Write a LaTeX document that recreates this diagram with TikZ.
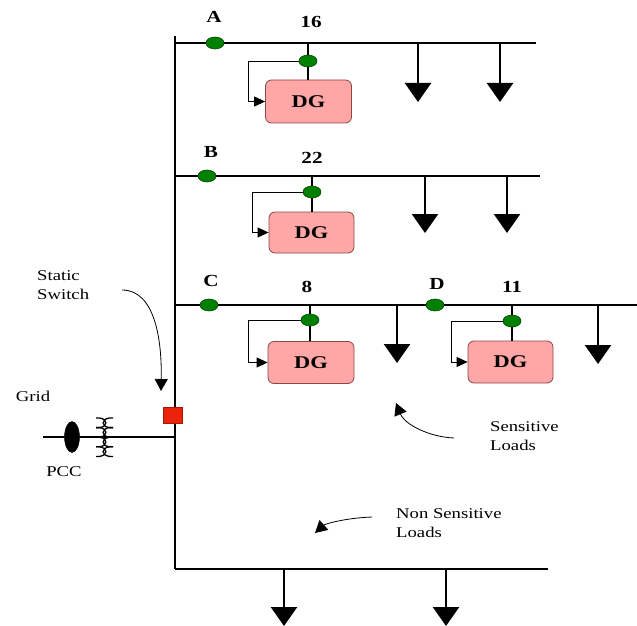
\documentclass[tikz,border=0pt]{standalone}
\usepackage{fontspec}
\setmainfont{Liberation Serif}[FakeStretch=1.25]
\usetikzlibrary{arrows.meta,shapes.geometric}
\definecolor{dgfill}{RGB}{255,166,166}
\definecolor{dgline}{RGB}{140,70,70}
\definecolor{gfill}{RGB}{0,128,0}
\definecolor{gline}{RGB}{0,70,0}
\definecolor{sred}{RGB}{235,35,10}
\begin{document}
\begin{tikzpicture}[x=1bp,y=-1bp,
  bus/.style={line width=2.5bp},
  thinline/.style={line width=0.9bp},
  gdot/.style={ellipse, draw=gline, fill=gfill, minimum width=18bp, minimum height=12bp, inner sep=0pt, line width=0.6bp},
  dgbox/.style={rectangle, rounded corners=6bp, draw=dgline, fill=dgfill, line width=0.8bp, minimum width=86bp, minimum height=42bp, font=\fontsize{18}{20}\selectfont\bfseries},
  loadarr/.style={line width=2.5bp, -{Triangle[width=26bp,length=19bp]}},
  fbarr/.style={thinline, -{Triangle[width=10bp,length=11bp]}},
  curv/.style={line width=0.8bp, -{Triangle[width=13bp,length=12bp]}},
  coil/.style={line width=1.3bp},
  lbl/.style={font=\fontsize{17}{19}\selectfont\bfseries, inner sep=0pt},
  txt/.style={font=\fontsize{15}{19}\selectfont, inner sep=0pt, align=left}]
\useasboundingbox (0,0) rectangle (637,626);

% main vertical bus
\coordinate (Vtop) at (175,36);
\coordinate (Vbot) at (175,569);
\draw[bus] (Vtop) -- (Vbot);

% ---------- Bus A ----------
\coordinate (A0) at (175,43);
\coordinate (A1) at (536,43);
\draw[bus] (A0) -- (A1);
\node[gdot] (a) at (215,43) {};
\node[lbl] (lA) at (214,17) {A};
\node[lbl] (n16) at (311,22) {16};
\coordinate (tA) at (308,43);
\node[gdot] (fa) at (308,61) {};
\node[dgbox, minimum width=86bp, minimum height=43bp] (dgA) at (308.5,101.5) {DG};
\draw[bus] (tA) -- (fa) -- (dgA.north -| fa);
\coordinate (la) at (248,61);
\draw[fbarr] (fa.west) -- (la) |- (dgA.west);
\coordinate (lA1) at (418,43);
\coordinate (lA2) at (500,43);
\draw[loadarr] (lA1) -- ++(0,59);
\draw[loadarr] (lA2) -- ++(0,59);

% ---------- Bus B ----------
\coordinate (B0) at (175,176);
\coordinate (B1) at (540,176);
\draw[bus] (B0) -- (B1);
\node[gdot] (b) at (207,176) {};
\node[lbl] (lB) at (211,152) {B};
\node[lbl] (n22) at (312,158) {22};
\coordinate (tB) at (312,176);
\node[gdot] (fb) at (312,192) {};
\node[dgbox, minimum width=85bp, minimum height=41bp] (dgB) at (311.5,232.5) {DG};
\draw[bus] (tB) -- (fb) -- (dgB.north -| fb);
\coordinate (lb) at (252,192);
\draw[fbarr] (fb.west) -- (lb) |- (dgB.west);
\coordinate (lB1) at (425,176);
\coordinate (lB2) at (507,176);
\draw[loadarr] (lB1) -- ++(0,57);
\draw[loadarr] (lB2) -- ++(0,57);

% ---------- Bus C / D ----------
\coordinate (C0) at (175,305);
\coordinate (C1) at (637,305);
\draw[bus] (C0) -- (C1);
\node[gdot] (c) at (209,305) {};
\node[gdot] (d) at (435,305) {};
\node[lbl] (lC) at (211,281) {C};
\node[lbl] (lD) at (437,284) {D};
\node[lbl] (n8) at (307,287) {8};
\node[lbl] (n11) at (512,287) {11};
% DG at 8
\coordinate (tC) at (310,305);
\node[gdot] (fc) at (310,320) {};
\node[dgbox, minimum width=86bp, minimum height=42bp] (dgC) at (311,362.5) {DG};
\draw[bus] (tC) -- (fc) -- (dgC.north -| fc);
\coordinate (lc) at (248,320);
\draw[fbarr] (fc.west) -- (lc) |- (dgC.west);
% DG at 11
\coordinate (tD) at (512,305);
\node[gdot] (fd) at (512,321) {};
\node[dgbox, minimum width=85bp, minimum height=42bp] (dgD) at (510.5,362) {DG};
\draw[bus] (tD) -- (fd) -- (dgD.north -| fd);
\coordinate (ld) at (451,321);
\draw[fbarr] (fd.west) -- (ld) |- (dgD.west);
% loads
\coordinate (lC1) at (397,305);
\coordinate (lC2) at (598,305);
\draw[loadarr] (lC1) -- ++(0,58);
\draw[loadarr] (lC2) -- ++(0,59);

% ---------- Bottom bus ----------
\coordinate (E0) at (175,569);
\coordinate (E1) at (548,569);
\draw[bus] (E0) -- (E1);
\coordinate (lE1) at (284,569);
\coordinate (lE2) at (446,569);
\draw[loadarr] (lE1) -- ++(0,57);
\draw[loadarr] (lE2) -- ++(0,57);

% ---------- Grid side ----------
\coordinate (G0) at (43,437);
\coordinate (G1) at (175,437);
\draw[line width=1.6bp] (G0) -- (G1);
\node[ellipse, fill=black, draw=black, minimum width=15bp, minimum height=31bp, inner sep=0pt] (pccsym) at (72,437) {};
% transformer: two facing coils
\foreach \k in {0,1,2,3}{
  \pgfmathsetmacro{\ya}{418+9.6*\k}
  \pgfmathsetmacro{\yb}{\ya+9.6}
  \draw[coil] (96,\ya) -- (99.5,\ya) .. controls (108,\ya+1) and (108,\yb-1) .. (99.5,\yb) -- (96,\yb);
  \draw[coil] (113,\ya) -- (109.5,\ya) .. controls (101,\ya+1) and (101,\yb-1) .. (109.5,\yb) -- (113,\yb);
}
\node[rectangle, fill=sred, draw=sred!70!black, minimum width=19bp, minimum height=16bp, inner sep=0pt, line width=0.6bp] (sw) at (173,415.5) {};

% ---------- Text labels ----------
\node[txt, anchor=west] (ss) at (37,285.5) {Static\\Switch};
\node[txt] (grid) at (33,396) {Grid};
\node[txt] (pcc) at (64,472) {PCC};
\node[txt, anchor=west] (sl) at (490,436) {Sensitive\\Loads};
\node[txt, anchor=west] (nsl) at (396,523) {Non Sensitive\\Loads};

% ---------- Curved pointers ----------
\coordinate (s1) at (122,290);
\coordinate (s2) at (161,391);
\draw[curv] (s1) .. controls (155,290) and (162,340) .. (s2);
\coordinate (p1) at (454,438);
\coordinate (p2) at (396,403);
\draw[curv] (p1) .. controls (430,437) and (405,425) .. (p2);
\coordinate (q1) at (372,517);
\coordinate (q2) at (315,533);
\draw[curv] (q1) .. controls (345,518) and (325,524) .. (q2);
\end{tikzpicture}
\end{document}
